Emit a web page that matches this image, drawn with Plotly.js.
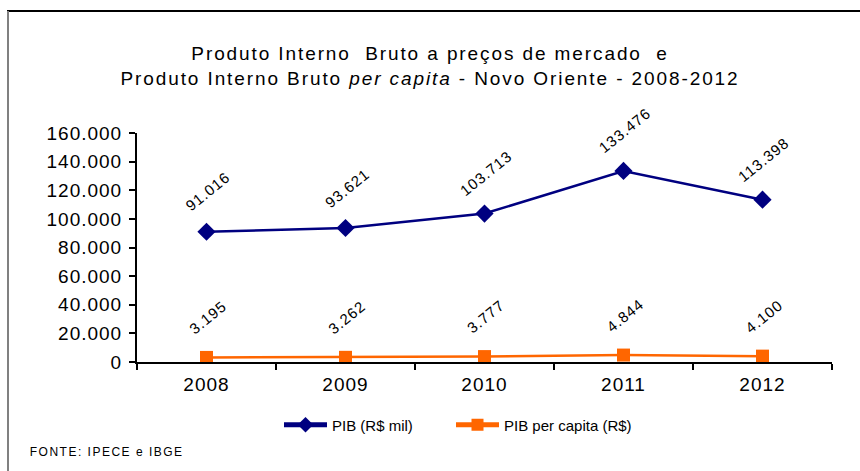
<!DOCTYPE html>
<html>
<head>
<meta charset="utf-8">
<script src="https://cdn.plot.ly/plotly-3.0.1.min.js"></script>
<style>
  html, body { margin: 0; padding: 0; background: #fff; }
  #chart { width: 860px; height: 471px; }
  #chart .gtitle { letter-spacing: 1.9px; }
  #chart .ytick text, #chart .xtick text { letter-spacing: 1px; }
  #chart .annotation text { letter-spacing: 1px; }
  #chart .annotation[data-index="10"] text { letter-spacing: 1.5px; }
</style>
</head>
<body>
<div id="chart"></div>
<script>
// ---- data ----
const years = ['2008', '2009', '2010', '2011', '2012'];
const pib = [91016, 93621, 103713, 133476, 113398];          // PIB (R$ mil)
const pibPerCapita = [3195, 3262, 3777, 4844, 4100];         // PIB per capita (R$)
const seriesNames = ['PIB (R$ mil)', 'PIB per capita (R$)'];
const titleLines = ['Produto Interno  Bruto a preços de mercado  e',
                    'Produto Interno Bruto <i>per capita</i> - Novo Oriente - 2008-2012'];
const sourceNote = 'FONTE: IPECE e IBGE';

// ---- helpers ----
function fmt(v) { return String(v).replace(/\B(?=(\d{3})+(?!\d))/g, '.'); }

const FONT = 'Arial, "Liberation Sans", sans-serif';
const NAVY = '#000080';
const ORANGE = '#FF6600';

// plot area in pixels: x 137..832, y 133..362
const L = 137, R = 832, T = 133, B = 362;
const px = p => (p - L) / (R - L);
const py = p => (B - p) / (B - T);

const traces = [
  {
    x: years, y: pib, name: seriesNames[0], type: 'scatter', mode: 'lines+markers',
    line: { color: NAVY, width: 2.5 },
    marker: { symbol: 'diamond', size: 14, color: NAVY },
    legendwidth: 114
  },
  {
    x: years, y: pibPerCapita, name: seriesNames[1], type: 'scatter', mode: 'lines+markers',
    line: { color: ORANGE, width: 2.5 },
    marker: { symbol: 'square', size: 13, color: ORANGE }
  }
];

const annotations = [];
[pib, pibPerCapita].forEach(series => {
  series.forEach((v, i) => {
    annotations.push({
      x: i, y: v, xref: 'x', yref: 'y',   // category index of years[i]
      text: fmt(v), showarrow: false, textangle: -39,
      yshift: 40, xshift: 1, font: { family: FONT, size: 15, color: '#000' }
    });
  });
});
annotations.push({
  xref: 'paper', yref: 'paper', x: px(106), y: py(452),
  xanchor: 'center', yanchor: 'middle', showarrow: false,
  text: sourceNote, font: { family: FONT, size: 12, color: '#000' }
});

const layout = {
  width: 860, height: 471,
  margin: { l: L, r: 860 - R, t: T, b: 471 - B },
  paper_bgcolor: '#fff', plot_bgcolor: '#fff',
  separators: ',.',
  font: { family: FONT, color: '#000' },
  title: {
    text: titleLines.join('<br>'),
    font: { family: FONT, size: 19, color: '#000' },
    x: 0.5, xanchor: 'center', xref: 'container',
    y: 1 - 60 / 471, yanchor: 'top', yref: 'container'
  },
  xaxis: {
    type: 'category', categoryorder: 'array', categoryarray: years,
    range: [-0.5, years.length - 0.5], autorange: false,
    showgrid: false, zeroline: false,
    showline: true, linecolor: '#000', linewidth: 2,
    ticks: 'outside', tickson: 'boundaries', ticklen: 6, tickwidth: 2, tickcolor: '#000',
    tickangle: 0, ticklabelstandoff: 4,
    tickfont: { family: FONT, size: 19, color: '#000' },
    fixedrange: true
  },
  yaxis: {
    range: [0, 160000], autorange: false, dtick: 20000, tick0: 0, tickformat: ',.0f',
    showgrid: false, zeroline: false,
    showline: true, linecolor: '#000', linewidth: 2,
    ticks: 'outside', ticklen: 6, tickwidth: 2, tickcolor: '#000',
    tickfont: { family: FONT, size: 19, color: '#000' },
    ticklabelstandoff: 3,
    fixedrange: true
  },
  showlegend: true,
  legend: {
    orientation: 'h', x: px(279), xanchor: 'left', y: py(425), yanchor: 'middle',
    itemwidth: 43, itemsizing: 'constant',
    font: { family: FONT, size: 15, color: '#000' },
    bgcolor: 'rgba(0,0,0,0)', itemclick: false, itemdoubleclick: false
  },
  annotations: annotations,
  shapes: [
    { type: 'line', xref: 'paper', yref: 'paper', x0: px(7), x1: px(862), y0: py(11), y1: py(11),
      line: { color: '#000', width: 2 } },
    { type: 'line', xref: 'paper', yref: 'paper', x0: px(8), x1: px(8), y0: py(11), y1: py(475),
      line: { color: '#808080', width: 2 } }
  ]
};

Plotly.newPlot('chart', traces, layout, { displayModeBar: false, staticPlot: true });
</script>
</body>
</html>
